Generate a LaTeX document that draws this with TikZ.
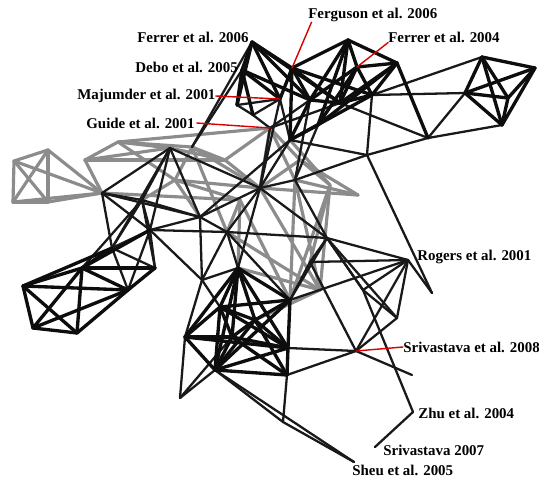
\documentclass[tikz,border=0pt]{standalone}
\usepackage{fontspec}
\setmainfont{Liberation Serif}
\begin{document}
\begin{tikzpicture}[x=0.02cm,y=-0.02cm,line join=round,line cap=round,
    edge/.style={draw=black!90,line width=1.3pt},
    heavy/.style={draw=black!95,line width=1.9pt},
    grayedge/.style={draw=black!45,line width=1.8pt},
    leader/.style={draw=red!85!black,line width=0.8pt},
    lbl/.style={anchor=west,inner sep=0pt,font=\bfseries\fontsize{8.5}{10}\selectfont}]
    \useasboundingbox (0,0) rectangle (539,481);
    % vertices
    \foreach \n/\x/\y in {g1/14/161,g2/48/150,g3/13/202,g4/48/202,
        q1/85/160,q2/118/142,q3/192/147,q4/175/180,q6/240/200,q7/300/160,q8/358/195,q9/320/290,q10/330/185,q11/225/160,
        a1/102/193,a2/170/148,a3/142/200,a4/150/230,a5/112/248,
        b1/23/286,b2/82/268,b3/33/328,b4/77/333,b5/128/290,b7/155/268,
        m1/260/188,m2/200/217,m3/227/232,m4/327/238,m5/295/180,
        c1/185/337,c2/238/268,c3/215/370,c4/287/375,c5/288/348,c6/290/300,c7/220/307,c8/232/337,c9/255/320,c10/202/280,c11/180/398,c12/283/422,
        r1/408/260,r2/432/293,r3/397/318,s8/356/351,r5/412/375,zhu/413/412,s7/375/447,sheu/354/462,r7/363/290,r8/310/262,
        u1/252/42,u2/242/70,u3/280/99,u4/270/128,u5/292/68,u6/348/40,u7/397/63,u8/357/67,u9/367/155,u10/237/105,u11/253/115,u12/290/140,u13/340/103,u14/310/100,u15/372/95,u16/318/125,u17/428/138,
        f1/482/57,f2/535/68,f3/465/93,f4/502/125,f5/508/98}
        \coordinate (\n) at (\x,\y);
    % gray part
    \foreach \a/\b in {g1/g2,g1/g3,g1/g4,g2/g3,g2/g4,g3/g4,g1/a1,g2/a1,g3/a1,g4/a1,
        q1/q2,q1/a1,q1/q11,q1/a2,q2/q3,q2/a2,q2/q4,q2/u4,q3/q11,q3/q4,q3/m1,q11/m1,q4/m1,q4/a3,q4/q6,q4/m2,a2/q11,q11/u4,
        u4/m5,u4/q7,u4/m1,q7/q10,q7/m1,q7/q8,m1/q8,m5/q8,q10/q9,m1/q9,m3/q9,m5/q9,q6/c6,q6/c2,q6/m3,q3/m3,q10/c6,m5/c6,q10/r8,u12/q10,a1/q6,c2/q9,c9/q9}
        \draw[grayedge] (\a) -- (\b);
    % black part
    \foreach \a/\b in {u10/u11,u10/u3,u11/u3,u11/u4,u4/u14,u4/u13,u12/u9,u3/u12,u9/u17,u15/u9,u13/u17,u17/f3,u17/f4,u15/f1,u15/f3,
        u1/q3,u2/q3,u12/m2,u4/m1,u3/m1,u12/m1,u14/m5,u9/m5,u9/r2,u16/m5,
        m1/m2,m1/m3,m1/m4,m1/m5,m1/c2,m2/m3,m2/a3,m2/a2,m2/a4,m2/c10,m3/m4,m3/c6,m3/c2,m3/a4,m4/r1,m4/c6,m4/r7,m4/r3,m5/m4,m2/a1,a2/m1,
        a1/a2,a1/a3,a1/a4,a1/a5,a2/a3,a2/a4,a3/a4,a3/a5,a3/b7,a4/a5,a4/b7,a4/c10,a5/b5,a5/b7,a4/b5,a3/b2,a2/a5,
        c1/c10,c1/c11,c4/c12,c4/s8,c5/s8,c10/c7,c10/c2,c11/c3,c11/c8,c3/c12,c12/sheu,c3/sheu,c10/m3,c6/r8,
        r1/r2,r1/r3,r1/s8,r1/r7,r1/r8,r3/r7,r3/s8,s8/r5,s8/r8,zhu/s7,zhu/r7,r7/m4,r8/m4,c6/r1}
        \draw[edge] (\a) -- (\b);
    \foreach \a/\b in {u1/u2,u1/u10,u1/u3,u1/u5,u1/u14,u1/u13,u2/u10,u2/u11,u2/u3,u2/u14,u3/u5,u5/u6,u5/u14,u5/u13,u5/u12,u5/u15,
        u6/u7,u6/u8,u6/u13,u6/u14,u6/u16,u7/u8,u7/u13,u7/u15,u7/u17,u8/u13,u8/u14,u8/u15,u8/u16,u13/u14,u13/u15,u14/u12,u15/u12,u16/u12,u16/u7,
        f1/f2,f1/f3,f1/f4,f1/f5,f2/f3,f2/f4,f2/f5,f3/f4,f3/f5,f4/f5,
        b1/b2,b1/b3,b1/b4,b1/b5,b2/b3,b2/b4,b2/b5,b3/b4,b4/b5,b3/b5,b5/b7,b2/b7,b1/a5,a5/b2,a4/b2,
        c1/c2,c1/c3,c1/c7,c1/c8,c1/c5,c2/c3,c2/c6,c2/c7,c2/c8,c2/c9,c2/c5,c3/c4,c3/c7,c3/c8,c3/c9,c3/c5,c3/c6,
        c4/c5,c4/c8,c4/c9,c5/c6,c5/c7,c5/c8,c5/c9,c6/c7,c6/c9,c7/c8,c7/c9,c8/c9}
        \draw[heavy] (\a) -- (\b);
    % labels
    \node[lbl] (lFer06) at (137,37) {Ferrer et al. 2006};
    \node[lbl] (lDebo) at (135,67) {Debo et al. 2005};
    \node[lbl] (lMaj) at (77,96) {Majumder et al. 2001};
    \node[lbl] (lGuide) at (86,123) {Guide et al. 2001};
    \node[lbl] (lFerg) at (308,15) {Ferguson et al. 2006};
    \node[lbl] (lFer04) at (388,37) {Ferrer et al. 2004};
    \node[lbl] (lRog) at (417,257) {Rogers et al. 2001};
    \node[lbl] (lSri08) at (403,347) {Srivastava et al. 2008};
    \node[lbl] (lZhu) at (418,413) {Zhu et al. 2004};
    \node[lbl] (lSri07) at (383,450) {Srivastava 2007};
    \node[lbl] (lSheu) at (352,470) {Sheu et al. 2005};
    \draw[leader] ([xshift=2pt]lFerg.south west) -- (u5);
    \draw[leader] (lFer04.south west) -- (u8);
    \draw[leader] (lMaj.east) -- (u3);
    \draw[leader] ([xshift=1pt]lGuide.east) -- (u4);
    \draw[leader] (lSri08.west) -- (s8);
\end{tikzpicture}
\end{document}
